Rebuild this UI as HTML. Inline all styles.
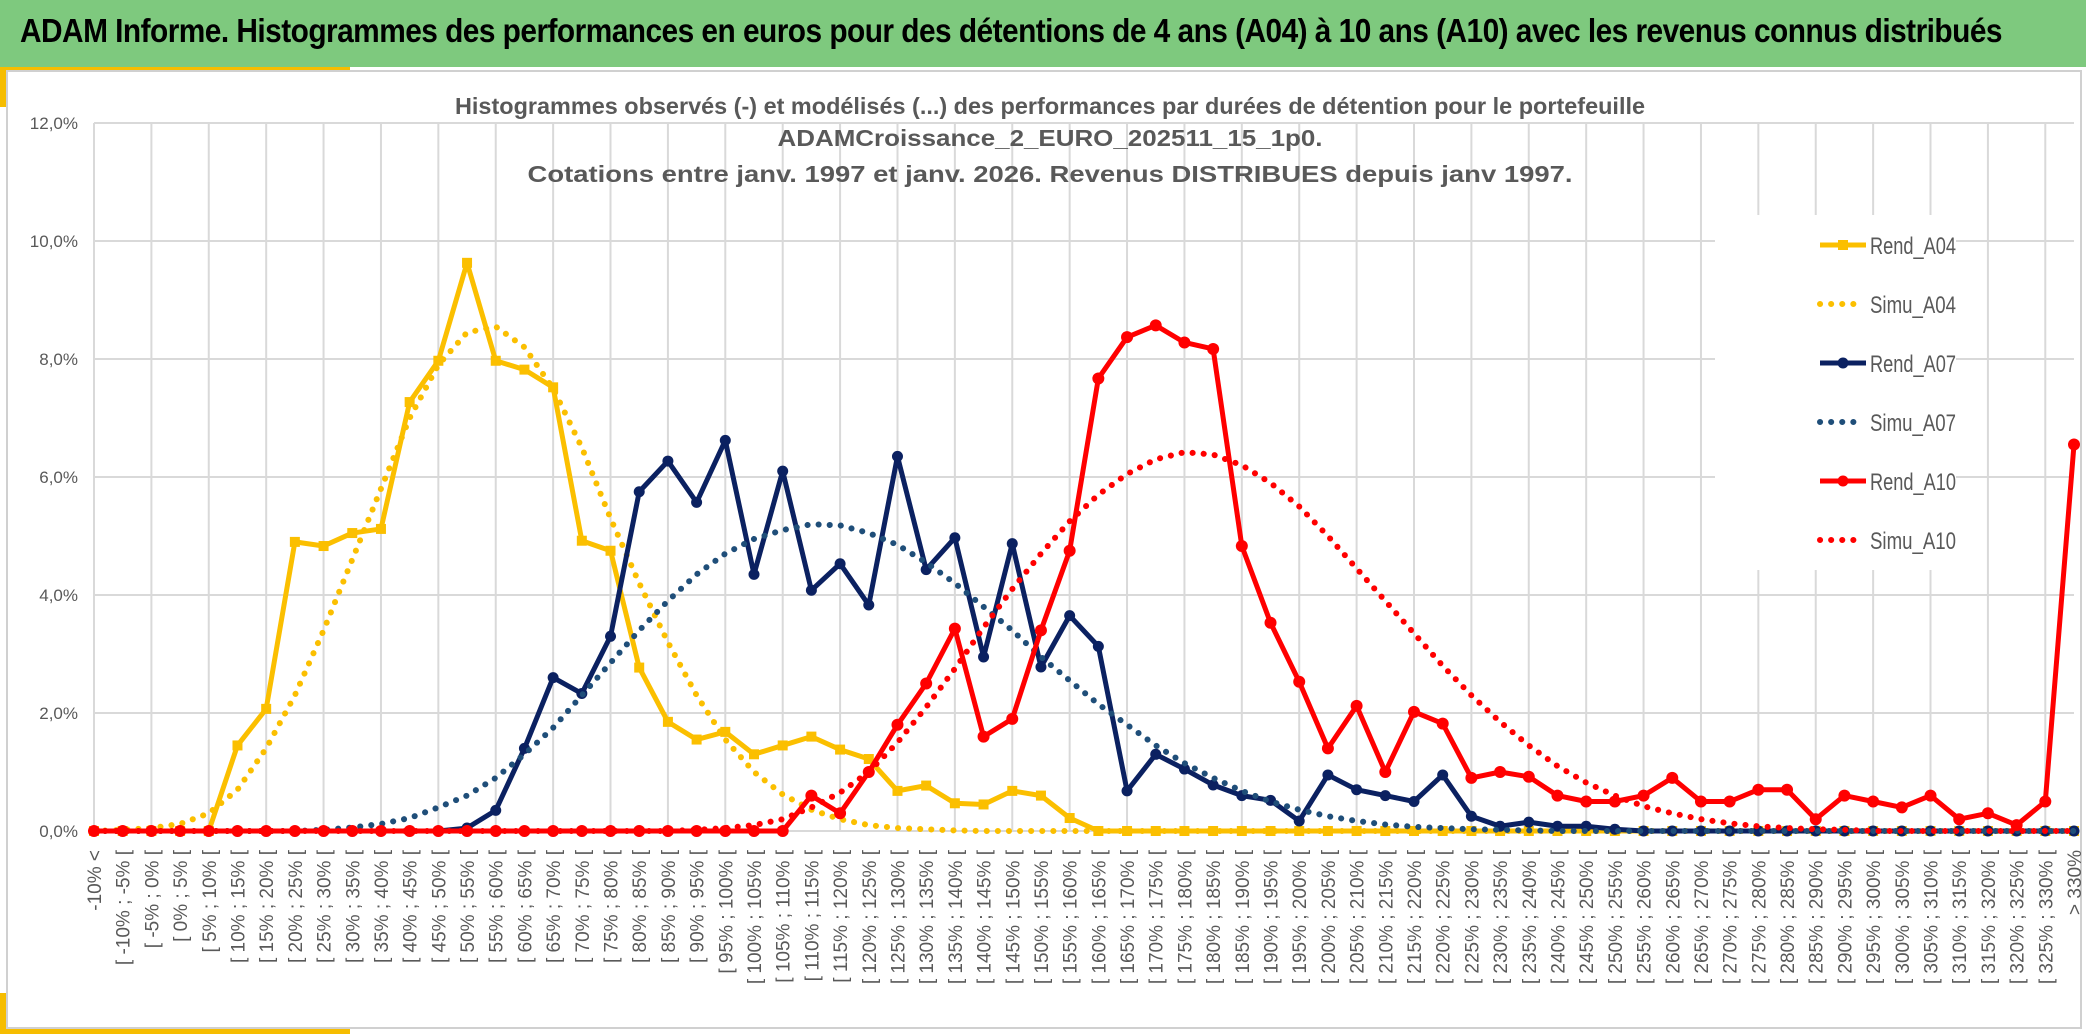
<!DOCTYPE html>
<html><head><meta charset="utf-8">
<style>
html,body{margin:0;padding:0;background:#fff;}
body{width:2086px;height:1034px;overflow:hidden;position:relative;font-family:"Liberation Sans",sans-serif;}
#bar{position:absolute;left:0;top:0;width:2086px;height:67px;background:#7ec97e;}
#bar h1{margin:0;position:absolute;left:20px;top:12px;font-size:33px;font-weight:bold;color:#000;white-space:nowrap;letter-spacing:-0.6px;transform:scaleX(0.905);transform-origin:left top;}
svg{position:absolute;left:0;top:0;}
</style></head>
<body>
<div id="bar"><h1>ADAM Informe. Histogrammes des performances en euros pour des détentions de 4 ans (A04) à 10 ans (A10) avec les revenus connus distribués</h1></div>
<svg id="chart" width="2086" height="1034">
  <rect x="0" y="67" width="350" height="4" fill="#f6bd00"/>
  <rect x="0" y="67" width="7" height="40" fill="#f6bd00"/>
  <rect x="0" y="993" width="7" height="41" fill="#f6bd00"/>
  <rect x="0" y="1027" width="350" height="7" fill="#f6bd00"/>
  <rect x="7" y="71" width="2074" height="957" fill="none" stroke="#d0d0d0" stroke-width="2"/>
  <g id="grid"></g>
  <g id="ylabels"></g>
  <g id="xlabels"></g>
  <rect x="1715" y="215" width="241" height="355" fill="#fff"/>
  <g id="series"></g>
  <g id="legend"></g>
  <g font-family="Liberation Sans, sans-serif" font-weight="bold" font-size="23" fill="#595959" text-anchor="middle">
    <text x="1050" y="114" textLength="1190" lengthAdjust="spacingAndGlyphs">Histogrammes observés (-) et modélisés (...) des performances  par durées de détention pour le portefeuille</text>
    <text x="1050" y="146" textLength="545" lengthAdjust="spacingAndGlyphs">ADAMCroissance_2_EURO_202511_15_1p0.</text>
    <text x="1050" y="182" textLength="1045" lengthAdjust="spacingAndGlyphs">Cotations entre janv. 1997 et janv. 2026. Revenus DISTRIBUES depuis janv 1997.</text>
  </g>
</svg>
<script>
var categories = ["-10% <"];
(function(){ categories.push("[ -10% ; -5% [","[ -5% ; 0% [");
 for (var k=0;k<66;k++){ categories.push("[ "+(5*k)+"% ; "+(5*k+5)+"% ["); }
 categories.push("> 330%"); })();
var yTicks = [0,2,4,6,8,10,12];
var yTickLabels = ["0,0%","2,0%","4,0%","6,0%","8,0%","10,0%","12,0%"];
var rendA04 = [0,0,0,0,0,1.45,2.07,4.9,4.83,5.05,5.12,7.27,7.97,9.63,7.97,7.82,7.52,4.92,4.75,2.77,1.85,1.55,1.68,1.3,1.45,1.6,1.38,1.22,0.68,0.77,0.47,0.45,0.68,0.6,0.22,0,0,0,0,0,0,0,0,0,0,0,0,0,0,0,0,0,0,0,0,0,0,0,0,0,0,0,0,0,0,0,0,0,0,0];
var simuA04 = [0,0.02,0.05,0.12,0.3,0.7,1.4,2.3,3.4,4.6,5.8,7.0,7.9,8.45,8.55,8.2,7.5,6.5,5.3,4.2,3.2,2.3,1.55,1.0,0.62,0.36,0.2,0.1,0.05,0.03,0.01,0,0,0,0,0,0,0,0,0,0,0,0,0,0,0,0,0,0,0,0,0,0,0,0,0,0,0,0,0,0,0,0,0,0,0,0,0,0,0];
var rendA07 = [0,0,0,0,0,0,0,0,0,0,0,0,0,0.05,0.35,1.4,2.6,2.33,3.3,5.75,6.27,5.57,6.62,4.35,6.1,4.08,4.53,3.83,6.35,4.43,4.97,2.95,4.87,2.78,3.65,3.13,0.68,1.3,1.05,0.78,0.6,0.52,0.17,0.95,0.7,0.6,0.5,0.95,0.25,0.08,0.15,0.08,0.08,0.03,0,0,0,0,0,0,0,0,0,0,0,0,0,0,0,0];
var simuA07 = [0,0,0,0,0,0,0,0,0.02,0.06,0.12,0.22,0.4,0.6,0.9,1.3,1.75,2.3,2.85,3.4,3.9,4.35,4.7,4.95,5.1,5.2,5.18,5.05,4.85,4.55,4.2,3.8,3.4,2.95,2.55,2.15,1.8,1.45,1.15,0.9,0.68,0.5,0.36,0.25,0.17,0.11,0.07,0.05,0.03,0.02,0.01,0,0,0,0,0,0,0,0,0,0,0,0,0,0,0,0,0,0,0];
var rendA10 = [0,0,0,0,0,0,0,0,0,0,0,0,0,0,0,0,0,0,0,0,0,0,0,0,0,0.6,0.3,1.0,1.8,2.5,3.43,1.6,1.9,3.4,4.75,7.67,8.37,8.57,8.28,8.17,4.83,3.53,2.53,1.4,2.12,1.0,2.02,1.82,0.9,1.0,0.92,0.6,0.5,0.5,0.6,0.9,0.5,0.5,0.7,0.7,0.2,0.6,0.5,0.4,0.6,0.2,0.3,0.1,0.5,6.55];
var simuA10 = [0,0,0,0,0,0,0,0,0,0,0,0,0,0,0,0,0,0,0,0,0,0.02,0.05,0.1,0.2,0.4,0.65,1.0,1.5,2.1,2.75,3.45,4.1,4.7,5.25,5.7,6.05,6.3,6.42,6.38,6.2,5.9,5.5,5.0,4.45,3.9,3.35,2.8,2.3,1.85,1.45,1.1,0.82,0.6,0.42,0.3,0.2,0.13,0.08,0.05,0.03,0.02,0,0,0,0,0,0,0,0];

var NS="http://www.w3.org/2000/svg";
var X0=94, X1=2074, Y0=831, Y12=123;
function xScale(i){ return X0 + i*(X1-X0)/(categories.length-1); }
function yScale(v){ return Y0 - v*(Y0-Y12)/12; }
function mk(tag, attrs, parent){ var e=document.createElementNS(NS,tag); for(var k in attrs) e.setAttribute(k,attrs[k]); parent.appendChild(e); return e; }

var grid=document.getElementById('grid');
yTicks.forEach(function(t,j){
  var l=mk('line',{x1:X0,x2:X1,y1:yScale(t),y2:yScale(t),stroke:'#d9d9d9','stroke-width':2},grid);
  
  
  var tx=mk('text',{x:78,y:yScale(t)+6,'text-anchor':'end','font-size':17,fill:'#595959'},document.getElementById('ylabels'));
  tx.textContent=yTickLabels[j];
  
  
});
for(var i=0;i<categories.length;i+=2){
  var l=mk('line',{x1:xScale(i),x2:xScale(i),y1:Y12,y2:Y0,stroke:'#d9d9d9','stroke-width':2},grid);
  
  
}
var xl=document.getElementById('xlabels');
categories.forEach(function(c,i){
  var x=xScale(i)+7, y=850;
  var t=mk('text',{x:x,y:y,'text-anchor':'end','font-size':19,fill:'#595959',transform:'rotate(-90 '+x+' '+y+')'},xl);
  t.textContent=c;
  
  
});

var sg=document.getElementById('series');
function drawSolid(vals,color,marker,name){
  var g=mk('g',{},sg);
  
  
  var pts=vals.map(function(v,i){return xScale(i)+','+yScale(v);}).join(' ');
  mk('polyline',{points:pts,fill:'none',stroke:color,'stroke-width':5,'stroke-linejoin':'round'},g);
  vals.forEach(function(v,i){
    var m;
    if(marker==='square') m=mk('rect',{x:xScale(i)-5,y:yScale(v)-5,width:10,height:10,fill:color},g);
    else m=mk('circle',{cx:xScale(i),cy:yScale(v),r:marker==='big'?6:5.5,fill:color},g);
    
    
  });
}
function drawDotted(vals,color,name){
  var pts=vals.map(function(v,i){return xScale(i)+','+yScale(v);}).join(' ');
  var p=mk('polyline',{points:pts,fill:'none',stroke:color,'stroke-width':6,'stroke-linecap':'round','stroke-dasharray':'0.1 11'},sg);
  
  
}
drawSolid(rendA04,'#fbbf00','square','rend-a04-line');
drawDotted(simuA04,'#fbbf00','simu-a04-line');
drawSolid(rendA07,'#0b2161','circle','rend-a07-line');
drawDotted(simuA07,'#1f4e79','simu-a07-line');
drawSolid(rendA10,'#ff0000','big','rend-a10-line');
drawDotted(simuA10,'#ff0000','simu-a10-line');

var legendItems=[['Rend_A04','#fbbf00','square'],['Simu_A04','#fbbf00','dot'],['Rend_A07','#0b2161','circle'],['Simu_A07','#1f4e79','dot'],['Rend_A10','#ff0000','circle'],['Simu_A10','#ff0000','dot']];
var lg=document.getElementById('legend');
legendItems.forEach(function(it,j){
  var y=245+j*59;
  var g=mk('g',{},lg);
  
  
  if(it[2]==='dot'){
    mk('line',{x1:1820,x2:1856,y1:y,y2:y,stroke:it[1],'stroke-width':6,'stroke-linecap':'round','stroke-dasharray':'0.1 11'},g);
  } else {
    mk('line',{x1:1820,x2:1866,y1:y,y2:y,stroke:it[1],'stroke-width':5},g);
    if(it[2]==='square') mk('rect',{x:1838,y:y-5,width:10,height:10,fill:it[1]},g);
    else mk('circle',{cx:1843,cy:y,r:5.5,fill:it[1]},g);
  }
  var t=mk('text',{x:1870,y:y+9,'font-size':24,fill:'#595959',textLength:'86',lengthAdjust:'spacingAndGlyphs'},g);
  t.textContent=it[0];
});
</script>
</body></html>
